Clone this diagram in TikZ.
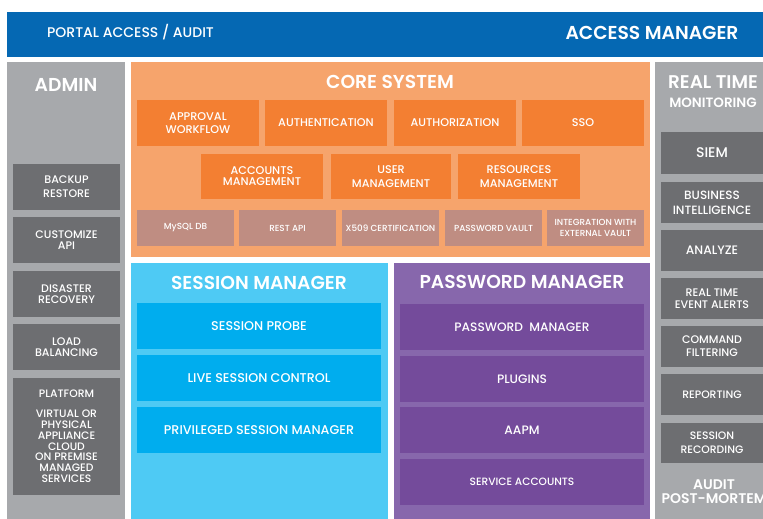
\documentclass[tikz,border=0pt]{standalone}
\usepackage{fontspec}
\setmainfont{Poppins}[UprightFont=* Medium, BoldFont=* SemiBold]
\definecolor{topblue}{HTML}{0568B3}
\definecolor{panelgray}{HTML}{A7A9AC}
\definecolor{boxgray}{HTML}{6D6E71}
\definecolor{orangelt}{HTML}{F6A46C}
\definecolor{orangebx}{HTML}{F37F32}
\definecolor{mauve}{HTML}{BF8D82}
\definecolor{bluelt}{HTML}{4ECAF4}
\definecolor{bluebx}{HTML}{00ADEE}
\definecolor{purplelt}{HTML}{8767AC}
\definecolor{purplebx}{HTML}{744B9B}
\newcommand\Rbx[7]{\node[#2, minimum width={(#5-#3)*1pt}, minimum height={(#6-#4)*1pt}] (#1) at ({(#3+#5)/2},{(#4+#6)/2}) {#7};}
\newcommand\fs[2]{\fontsize{#1}{#2}\selectfont}
\begin{document}
\begin{tikzpicture}[x=1pt,y=-1pt,
  every node/.style={inner sep=0pt, outer sep=0pt, text=white, align=center},
  panel/.style={rectangle, fill=#1},
  hdr/.style={font=\bfseries\fs{18.7}{18.7}},
  adminbx/.style={rectangle, fill=boxgray, font=\fs{11}{11}},
  rightbx/.style={rectangle, fill=boxgray, font=\fs{11}{13}},
  corebx/.style={rectangle, fill=orangebx, font=\fs{11.2}{13}},
  basebx/.style={rectangle, fill=mauve, font=\fs{8.8}{11}},
  sessbx/.style={rectangle, fill=bluebx, font=\fs{12.7}{13}},
  pwbx/.style={rectangle, fill=purplebx, font=\fs{12.2}{13}}
]
\clip (0,0) rectangle (763,519);
\fill[white] (0,0) rectangle (763,519);

% top bar
\Rbx{top}{panel=topblue}{7}{12}{763}{57}{}
\node[font=\fs{14}{14}] (portal) at (130.5,32) {PORTAL ACCESS / AUDIT};
\node[hdr] (am) at (652,33) {ACCESS MANAGER};

% admin column
\Rbx{admin}{panel=panelgray}{7}{62}{125}{519}{}
\node[hdr] (admint) at (66,85) {ADMIN};
\Rbx{backup}{adminbx, font=\fs{11}{14}}{13}{164}{120}{210}{BACKUP\\RESTORE}
\Rbx{custom}{adminbx}{13}{217}{120}{263}{CUSTOMIZE\\API}
\Rbx{disaster}{adminbx}{13}{271}{120}{317}{DISASTER\\RECOVERY}
\Rbx{load}{adminbx}{13}{324}{120}{370}{LOAD\\BALANCING}
\Rbx{platform}{adminbx, font=\fs{10.8}{10.8}}{13}{378}{120}{495}{PLATFORM\\[9pt]VIRTUAL OR\\PHYSICAL\\APPLIANCE\\CLOUD\\ON PREMISE\\MANAGED\\SERVICES}

% core system
\Rbx{core}{panel=orangelt}{131}{62}{650}{257}{}
\node[hdr] (coret) at (390,82) {CORE SYSTEM};
\Rbx{approval}{corebx}{137}{100}{259}{146}{APPROVAL\\WORKFLOW}
\Rbx{authn}{corebx}{265}{100}{387}{146}{AUTHENTICATION}
\Rbx{authz}{corebx}{394}{100}{516}{146}{AUTHORIZATION}
\Rbx{sso}{corebx}{522}{100}{644}{146}{SSO}
\Rbx{accounts}{corebx, font=\fs{11.2}{11}}{201}{154}{323}{199}{ACCOUNTS\\MANAGEMENT}
\Rbx{usermg}{corebx, font=\fs{11.2}{14}}{331}{154}{451}{199}{USER\\MANAGEMENT}
\Rbx{resmg}{corebx, font=\fs{11.2}{14}}{458}{154}{580}{199}{RESOURCES\\MANAGEMENT}
\Rbx{mysql}{basebx}{137}{210}{234}{246}{MySQL DB}
\Rbx{rest}{basebx}{239}{210}{336}{246}{REST API}
\Rbx{x509}{basebx}{342}{210}{439}{246}{X509 CERTIFICATION}
\Rbx{pvault}{basebx}{445}{210}{542}{246}{PASSWORD VAULT}
\Rbx{extvault}{basebx}{547}{210}{644}{246}{INTEGRATION WITH\\EXTERNAL VAULT}

% session manager
\Rbx{session}{panel=bluelt}{131}{263}{388}{519}{}
\node[hdr] (sesst) at (259,283) {SESSION MANAGER};
\Rbx{probe}{sessbx}{137}{303}{381}{349}{SESSION PROBE}
\Rbx{live}{sessbx}{137}{355}{381}{401}{LIVE SESSION CONTROL}
\Rbx{priv}{sessbx}{137}{407}{381}{453}{PRIVILEGED SESSION MANAGER}

% password manager
\Rbx{pwm}{panel=purplelt}{394}{263}{650}{519}{}
\node[hdr] (pwmt) at (522,282) {PASSWORD MANAGER};
\Rbx{pwmb}{pwbx}{400}{304}{644}{350}{PASSWORD\ \ MANAGER}
\Rbx{plugins}{pwbx}{400}{356}{644}{402}{PLUGINS}
\Rbx{aapm}{pwbx}{400}{407}{644}{453}{AAPM}
\Rbx{svc}{pwbx, font=\fs{10.6}{12}}{400}{459}{644}{505}{SERVICE ACCOUNTS}

% right column
\Rbx{rt}{panel=panelgray}{655}{62}{763}{519}{}
\node[hdr, font=\bfseries\fs{18.4}{18.4}] (rtt) at (713,82) {REAL TIME};
\node[font=\bfseries\fs{13.5}{13.5}] (mont) at (713,103) {MONITORING};
\Rbx{siem}{rightbx, font=\fs{14}{14}}{661}{132}{763}{174}{SIEM}
\Rbx{bi}{rightbx, font=\fs{12}{15}}{661}{182}{763}{223}{BUSINESS\\INTELLIGENCE}
\Rbx{analyze}{rightbx, font=\fs{12.3}{12}}{661}{230}{763}{271}{ANALYZE}
\Rbx{alerts}{rightbx, font=\fs{11}{12}}{661}{278}{763}{319}{REAL TIME\\EVENT ALERTS}
\Rbx{cmd}{rightbx}{661}{326}{763}{367}{COMMAND\\FILTERING}
\Rbx{report}{rightbx, font=\fs{10.8}{12}}{661}{374}{763}{415}{REPORTING}
\Rbx{rec}{rightbx, font=\fs{10.8}{14}}{661}{423}{763}{463}{SESSION\\RECORDING}
\node[font=\bfseries\fs{14}{14}] (audit) at (714,492) {AUDIT\\POST-MORTEM};
\end{tikzpicture}
\end{document}
